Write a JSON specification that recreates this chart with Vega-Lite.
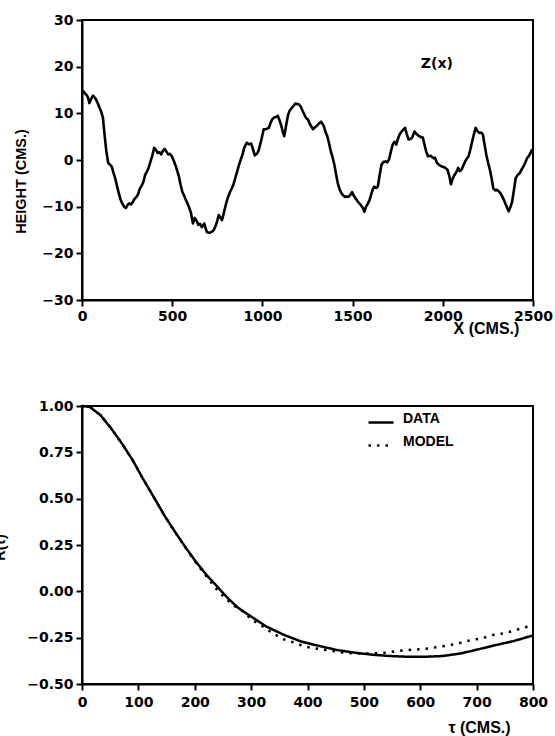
{
  "$schema": "https://vega.github.io/schema/vega-lite/v6.json",
  "autosize": "none",
  "padding": {"left": 82, "top": 20, "right": 473, "bottom": 716},
  "background": "white",
  "spacing": 106,
  "bounds": "flush",
  "config": {
    "view": {"stroke": "black", "strokeWidth": 2},
    "axis": {
      "grid": false,
      "domainColor": "black",
      "domainWidth": 2,
      "tickColor": "black",
      "tickWidth": 2,
      "tickSize": 6,
      "labelFont": "DejaVu Sans",
      "labelFontWeight": "bold",
      "labelFontSize": 14,
      "labelColor": "black",
      "labelPadding": 3,
      "titleFont": "Liberation Sans",
      "titleFontWeight": "bold",
      "titleFontSize": 14.5,
      "titleColor": "black"
    }
  },
  "vconcat": [
    {
      "width": 451,
      "height": 280,
      "layer": [
        {
          "data": {"values": [
            {"x":0,"z":14.9},{"x":10,"z":14.6},{"x":18,"z":14.2},{"x":26,"z":13.9},{"x":33,"z":13.4},{"x":41,"z":12.2},{"x":52,"z":13.2},{"x":61,"z":13.8},{"x":68,"z":13.5},{"x":76,"z":13.1},{"x":86,"z":12.3},{"x":96,"z":11.3},{"x":106,"z":10.4},{"x":116,"z":9.1},{"x":120,"z":7.4},{"x":125,"z":5.5},{"x":130,"z":3.6},{"x":135,"z":1.9},{"x":145,"z":-0.6},{"x":155,"z":-1.0},{"x":165,"z":-1.4},{"x":175,"z":-2.8},{"x":184,"z":-3.9},{"x":194,"z":-5.6},{"x":204,"z":-7.1},{"x":213,"z":-8.4},{"x":223,"z":-9.3},{"x":233,"z":-10.0},{"x":243,"z":-10.3},{"x":253,"z":-9.6},{"x":263,"z":-9.3},{"x":272,"z":-9.5},{"x":282,"z":-9.0},{"x":292,"z":-8.3},{"x":302,"z":-7.9},{"x":311,"z":-7.3},{"x":321,"z":-6.1},{"x":331,"z":-5.5},{"x":341,"z":-4.6},{"x":350,"z":-3.2},{"x":360,"z":-2.5},{"x":370,"z":-1.6},{"x":380,"z":-0.3},{"x":390,"z":1.0},{"x":400,"z":2.6},{"x":410,"z":2.2},{"x":419,"z":1.5},{"x":429,"z":1.7},{"x":439,"z":1.2},{"x":448,"z":1.9},{"x":458,"z":2.4},{"x":468,"z":1.8},{"x":478,"z":1.2},{"x":488,"z":1.3},{"x":498,"z":0.8},{"x":507,"z":0.0},{"x":517,"z":-1.0},{"x":527,"z":-2.2},{"x":537,"z":-3.5},{"x":546,"z":-5.2},{"x":556,"z":-6.8},{"x":566,"z":-7.6},{"x":576,"z":-8.6},{"x":586,"z":-9.4},{"x":596,"z":-10.4},{"x":605,"z":-11.5},{"x":615,"z":-13.6},{"x":625,"z":-12.4},{"x":635,"z":-13.0},{"x":645,"z":-13.9},{"x":654,"z":-13.7},{"x":664,"z":-14.4},{"x":678,"z":-13.6},{"x":685,"z":-14.6},{"x":693,"z":-15.5},{"x":708,"z":-15.6},{"x":723,"z":-15.3},{"x":732,"z":-14.9},{"x":742,"z":-14.0},{"x":750,"z":-13.0},{"x":758,"z":-11.8},{"x":767,"z":-12.3},{"x":776,"z":-12.9},{"x":789,"z":-10.9},{"x":801,"z":-9.0},{"x":811,"z":-7.8},{"x":821,"z":-6.8},{"x":830,"z":-6.1},{"x":840,"z":-5.2},{"x":850,"z":-3.8},{"x":860,"z":-2.5},{"x":870,"z":-1.1},{"x":880,"z":0.1},{"x":890,"z":1.2},{"x":899,"z":2.6},{"x":913,"z":3.7},{"x":925,"z":3.4},{"x":938,"z":3.5},{"x":948,"z":2.3},{"x":958,"z":1.0},{"x":968,"z":1.3},{"x":978,"z":1.9},{"x":988,"z":3.4},{"x":997,"z":4.8},{"x":1007,"z":6.6},{"x":1020,"z":6.6},{"x":1036,"z":6.9},{"x":1046,"z":8.0},{"x":1056,"z":8.8},{"x":1066,"z":9.1},{"x":1075,"z":9.2},{"x":1085,"z":9.5},{"x":1095,"z":8.5},{"x":1105,"z":7.3},{"x":1113,"z":6.0},{"x":1121,"z":5.1},{"x":1128,"z":6.6},{"x":1134,"z":8.0},{"x":1142,"z":9.6},{"x":1150,"z":10.5},{"x":1161,"z":11.1},{"x":1173,"z":11.6},{"x":1183,"z":12.1},{"x":1193,"z":12.0},{"x":1203,"z":11.9},{"x":1213,"z":11.4},{"x":1222,"z":10.6},{"x":1232,"z":9.8},{"x":1242,"z":9.0},{"x":1252,"z":8.7},{"x":1266,"z":7.5},{"x":1281,"z":6.6},{"x":1291,"z":7.0},{"x":1301,"z":7.3},{"x":1313,"z":7.8},{"x":1326,"z":8.2},{"x":1340,"z":7.3},{"x":1350,"z":6.0},{"x":1360,"z":5.1},{"x":1370,"z":3.5},{"x":1379,"z":1.9},{"x":1389,"z":0.6},{"x":1399,"z":-1.0},{"x":1408,"z":-3.0},{"x":1418,"z":-5.0},{"x":1428,"z":-6.3},{"x":1438,"z":-7.1},{"x":1448,"z":-7.6},{"x":1458,"z":-7.9},{"x":1468,"z":-7.8},{"x":1477,"z":-7.9},{"x":1487,"z":-7.5},{"x":1497,"z":-6.9},{"x":1506,"z":-7.6},{"x":1516,"z":-8.2},{"x":1531,"z":-9.0},{"x":1546,"z":-9.7},{"x":1556,"z":-10.2},{"x":1565,"z":-11.1},{"x":1575,"z":-10.0},{"x":1585,"z":-9.3},{"x":1595,"z":-8.5},{"x":1605,"z":-7.1},{"x":1613,"z":-6.2},{"x":1620,"z":-5.7},{"x":1630,"z":-6.0},{"x":1640,"z":-5.7},{"x":1650,"z":-3.2},{"x":1660,"z":-1.0},{"x":1672,"z":-0.4},{"x":1683,"z":-0.3},{"x":1692,"z":-0.5},{"x":1702,"z":0.1},{"x":1712,"z":1.8},{"x":1722,"z":3.3},{"x":1732,"z":3.9},{"x":1742,"z":3.3},{"x":1751,"z":4.5},{"x":1761,"z":5.5},{"x":1776,"z":6.3},{"x":1791,"z":6.9},{"x":1800,"z":5.6},{"x":1810,"z":4.4},{"x":1820,"z":4.5},{"x":1830,"z":4.8},{"x":1843,"z":6.1},{"x":1856,"z":5.5},{"x":1869,"z":5.1},{"x":1879,"z":4.9},{"x":1889,"z":4.8},{"x":1899,"z":3.2},{"x":1908,"z":1.8},{"x":1918,"z":0.8},{"x":1932,"z":0.9},{"x":1947,"z":0.4},{"x":1957,"z":0.5},{"x":1967,"z":-0.6},{"x":1981,"z":-1.1},{"x":1996,"z":-1.4},{"x":2011,"z":-1.6},{"x":2026,"z":-2.1},{"x":2036,"z":-3.4},{"x":2045,"z":-5.2},{"x":2055,"z":-4.0},{"x":2065,"z":-3.2},{"x":2075,"z":-2.6},{"x":2085,"z":-1.7},{"x":2094,"z":-2.4},{"x":2104,"z":-2.1},{"x":2114,"z":-1.2},{"x":2124,"z":-0.3},{"x":2133,"z":0.3},{"x":2143,"z":0.8},{"x":2153,"z":2.3},{"x":2163,"z":4.0},{"x":2173,"z":5.6},{"x":2182,"z":6.9},{"x":2192,"z":6.2},{"x":2202,"z":5.8},{"x":2212,"z":5.9},{"x":2222,"z":5.5},{"x":2231,"z":3.4},{"x":2241,"z":1.2},{"x":2251,"z":-0.6},{"x":2261,"z":-2.1},{"x":2270,"z":-3.8},{"x":2280,"z":-6.1},{"x":2290,"z":-6.5},{"x":2300,"z":-6.4},{"x":2310,"z":-6.7},{"x":2319,"z":-7.1},{"x":2329,"z":-7.8},{"x":2339,"z":-8.6},{"x":2352,"z":-9.8},{"x":2365,"z":-11.0},{"x":2374,"z":-10.2},{"x":2384,"z":-9.0},{"x":2394,"z":-6.5},{"x":2404,"z":-3.9},{"x":2415,"z":-3.2},{"x":2427,"z":-2.8},{"x":2437,"z":-2.0},{"x":2447,"z":-1.4},{"x":2457,"z":-0.6},{"x":2467,"z":0.4},{"x":2476,"z":0.8},{"x":2486,"z":1.5},{"x":2493,"z":2.1},{"x":2500,"z":2.0}
          ]},
          "mark": {"type": "line", "color": "black", "strokeWidth": 2.6, "strokeJoin": "round"},
          "encoding": {
            "x": {"field": "x", "type": "quantitative",
                  "scale": {"domain": [0, 2500], "nice": false},
                  "axis": {"values": [0, 500, 1000, 1500, 2000, 2500], "format": "d", "labelFlush": false, "title": "X (CMS.)",
                           "titleFontSize": 16, "titleX": 404, "titleY": 28, "titleAlign": "center", "titleBaseline": "middle"}},
            "y": {"field": "z", "type": "quantitative",
                  "scale": {"domain": [-30, 30], "nice": false},
                  "axis": {"values": [-30, -20, -10, 0, 10, 20, 30], "title": "HEIGHT (CMS.)",
                           "titleX": -61, "titleY": 161, "titleAlign": "center", "titleBaseline": "middle"}}
          }
        },
        {
          "data": {"values": [{"x": 1967, "z": 20.5, "label": "Z(x)"}]},
          "mark": {"type": "text", "font": "DejaVu Sans", "fontWeight": "bold", "fontSize": 14, "color": "black", "align": "center", "baseline": "middle"},
          "encoding": {
            "x": {"field": "x", "type": "quantitative"},
            "y": {"field": "z", "type": "quantitative"},
            "text": {"field": "label"}
          }
        }
      ]
    },
    {
      "width": 451,
      "height": 278,
      "data": {"values": [
        {"tau":0,"r":1.0,"s":"DATA"},{"tau":14,"r":0.995,"s":"DATA"},{"tau":33,"r":0.95,"s":"DATA"},{"tau":52,"r":0.878,"s":"DATA"},{"tau":71,"r":0.797,"s":"DATA"},{"tau":90,"r":0.707,"s":"DATA"},{"tau":108,"r":0.608,"s":"DATA"},{"tau":127,"r":0.51,"s":"DATA"},{"tau":146,"r":0.41,"s":"DATA"},{"tau":165,"r":0.321,"s":"DATA"},{"tau":183,"r":0.24,"s":"DATA"},{"tau":202,"r":0.16,"s":"DATA"},{"tau":221,"r":0.088,"s":"DATA"},{"tau":240,"r":0.025,"s":"DATA"},{"tau":259,"r":-0.038,"s":"DATA"},{"tau":277,"r":-0.089,"s":"DATA"},{"tau":296,"r":-0.128,"s":"DATA"},{"tau":327,"r":-0.19,"s":"DATA"},{"tau":359,"r":-0.236,"s":"DATA"},{"tau":390,"r":-0.272,"s":"DATA"},{"tau":421,"r":-0.295,"s":"DATA"},{"tau":453,"r":-0.317,"s":"DATA"},{"tau":484,"r":-0.331,"s":"DATA"},{"tau":515,"r":-0.342,"s":"DATA"},{"tau":546,"r":-0.349,"s":"DATA"},{"tau":578,"r":-0.353,"s":"DATA"},{"tau":609,"r":-0.353,"s":"DATA"},{"tau":640,"r":-0.349,"s":"DATA"},{"tau":672,"r":-0.335,"s":"DATA"},{"tau":703,"r":-0.313,"s":"DATA"},{"tau":734,"r":-0.29,"s":"DATA"},{"tau":766,"r":-0.268,"s":"DATA"},{"tau":800,"r":-0.238,"s":"DATA"},
        {"tau":0,"r":1.0,"s":"MODEL"},{"tau":14,"r":0.995,"s":"MODEL"},{"tau":33,"r":0.95,"s":"MODEL"},{"tau":52,"r":0.878,"s":"MODEL"},{"tau":71,"r":0.797,"s":"MODEL"},{"tau":90,"r":0.707,"s":"MODEL"},{"tau":108,"r":0.608,"s":"MODEL"},{"tau":127,"r":0.51,"s":"MODEL"},{"tau":146,"r":0.41,"s":"MODEL"},{"tau":165,"r":0.32,"s":"MODEL"},{"tau":183,"r":0.238,"s":"MODEL"},{"tau":202,"r":0.155,"s":"MODEL"},{"tau":221,"r":0.08,"s":"MODEL"},{"tau":240,"r":0.006,"s":"MODEL"},{"tau":252,"r":-0.03,"s":"MODEL"},{"tau":268,"r":-0.075,"s":"MODEL"},{"tau":284,"r":-0.105,"s":"MODEL"},{"tau":302,"r":-0.155,"s":"MODEL"},{"tau":321,"r":-0.19,"s":"MODEL"},{"tau":340,"r":-0.23,"s":"MODEL"},{"tau":359,"r":-0.26,"s":"MODEL"},{"tau":377,"r":-0.277,"s":"MODEL"},{"tau":396,"r":-0.299,"s":"MODEL"},{"tau":415,"r":-0.308,"s":"MODEL"},{"tau":434,"r":-0.317,"s":"MODEL"},{"tau":453,"r":-0.326,"s":"MODEL"},{"tau":468,"r":-0.331,"s":"MODEL"},{"tau":484,"r":-0.335,"s":"MODEL"},{"tau":515,"r":-0.335,"s":"MODEL"},{"tau":540,"r":-0.331,"s":"MODEL"},{"tau":559,"r":-0.322,"s":"MODEL"},{"tau":578,"r":-0.317,"s":"MODEL"},{"tau":597,"r":-0.313,"s":"MODEL"},{"tau":615,"r":-0.308,"s":"MODEL"},{"tau":634,"r":-0.299,"s":"MODEL"},{"tau":653,"r":-0.29,"s":"MODEL"},{"tau":672,"r":-0.277,"s":"MODEL"},{"tau":690,"r":-0.263,"s":"MODEL"},{"tau":709,"r":-0.254,"s":"MODEL"},{"tau":728,"r":-0.236,"s":"MODEL"},{"tau":747,"r":-0.227,"s":"MODEL"},{"tau":766,"r":-0.213,"s":"MODEL"},{"tau":784,"r":-0.195,"s":"MODEL"},{"tau":800,"r":-0.185,"s":"MODEL"}
      ]},
      "mark": {"type": "line", "color": "black", "strokeWidth": 2.5},
      "encoding": {
        "x": {"field": "tau", "type": "quantitative",
              "scale": {"domain": [0, 800], "nice": false},
              "axis": {"values": [0, 100, 200, 300, 400, 500, 600, 700, 800], "format": "d", "labelFlush": false, "labelPadding": 5,
                       "title": "τ (CMS.)", "titleFontSize": 16, "titleX": 397, "titleY": 43, "titleAlign": "center", "titleBaseline": "middle"}},
        "y": {"field": "r", "type": "quantitative",
              "scale": {"domain": [-0.5, 1], "nice": false},
              "axis": {"values": [-0.5, -0.25, 0, 0.25, 0.5, 0.75, 1], "format": ".2f",
                       "title": "R(τ)", "titleX": -82, "titleY": 141, "titleAlign": "center", "titleBaseline": "middle"}},
        "strokeDash": {"field": "s", "type": "nominal",
                       "scale": {"domain": ["DATA", "MODEL"], "range": [[1, 0], [2.5, 6]]},
                       "legend": {"title": null, "orient": "none", "legendX": 285, "legendY": 393,
                                  "symbolType": "stroke", "symbolSize": 625, "symbolStrokeWidth": 2.5,
                                  "symbolStrokeColor": "black", "clipHeight": 19, "padding": 0,
                                  "labelFont": "Liberation Sans", "labelFontWeight": "bold", "labelFontSize": 14,
                                  "labelColor": "black", "labelOffset": 8, "labelBaseline": "alphabetic"}}
      }
    }
  ]
}
